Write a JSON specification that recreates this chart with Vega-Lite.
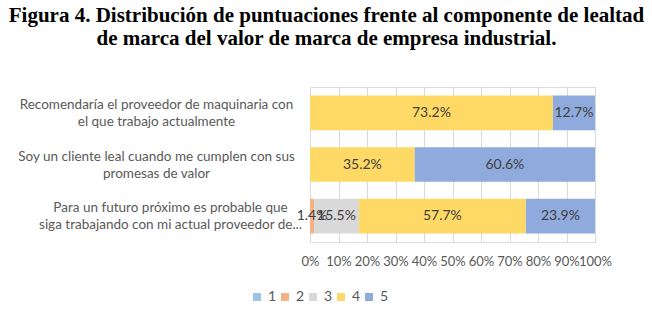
{
  "$schema": "https://vega.github.io/schema/vega-lite/v6.json",
  "autosize": "none",
  "width": 285,
  "height": 155,
  "padding": {"left": 310, "top": 87, "right": 57, "bottom": 72},
  "background": "white",
  "title": {
    "text": ["Figura 4. Distribución de puntuaciones frente al componente de lealtad", "de marca del valor de marca de empresa industrial."],
    "font": "Liberation Serif",
    "fontSize": 21,
    "fontWeight": "bold",
    "color": "#000000",
    "anchor": "middle",
    "frame": "group",
    "dx": -126,
    "lineHeight": 23,
    "offset": 38
  },
  "data": {
    "values": [
      {"item": "Recomendaría el proveedor de maquinaria con|el que trabajo actualmente", "score": "4", "value": 0.732},
      {"item": "Recomendaría el proveedor de maquinaria con|el que trabajo actualmente", "score": "5", "value": 0.127},
      {"item": "Soy un cliente leal cuando me cumplen con sus|promesas de valor", "score": "4", "value": 0.352},
      {"item": "Soy un cliente leal cuando me cumplen con sus|promesas de valor", "score": "5", "value": 0.606},
      {"item": "Para un futuro próximo es probable que|siga trabajando con mi actual proveedor de...", "score": "2", "value": 0.014},
      {"item": "Para un futuro próximo es probable que|siga trabajando con mi actual proveedor de...", "score": "3", "value": 0.155},
      {"item": "Para un futuro próximo es probable que|siga trabajando con mi actual proveedor de...", "score": "4", "value": 0.577},
      {"item": "Para un futuro próximo es probable que|siga trabajando con mi actual proveedor de...", "score": "5", "value": 0.239}
    ]
  },
  "encoding": {
    "y": {
      "field": "item",
      "type": "nominal",
      "sort": null,
      "title": null,
      "scale": {"paddingInner": 0.33, "paddingOuter": 0.165},
      "axis": {
        "domain": false,
        "ticks": false,
        "labelExpr": "split(datum.label, '|')",
        "labelAlign": "center",
        "labelPadding": {"condition": {"test": "indexof(datum.label, 'Para un') === 0", "value": 140}, "value": 154},
        "labelOffset": -8,
        "labelFont": "Lato",
        "labelFontSize": 13.5,
        "labelColor": "#595959",
        "labelLineHeight": 17,
        "labelLimit": 400
      }
    },
    "x": {
      "field": "value",
      "type": "quantitative",
      "stack": "normalize",
      "title": null,
      "scale": {"domain": [0, 1]},
      "axis": {
        "format": ".0%",
        "values": [0, 0.1, 0.2, 0.3, 0.4, 0.5, 0.6, 0.7, 0.8, 0.9, 1],
        "domain": false,
        "ticks": false,
        "grid": true,
        "gridColor": "#D9D9D9",
        "labelFont": "Lato",
        "labelFontSize": 13,
        "labelColor": "#595959",
        "labelPadding": 13,
        "labelFlush": false,
        "labelOverlap": false,
        "labelBound": false
      }
    },
    "order": {"field": "score", "type": "ordinal"}
  },
  "layer": [
    {
      "mark": {"type": "bar"},
      "encoding": {
        "color": {
          "field": "score",
          "type": "nominal",
          "scale": {"domain": ["1", "2", "3", "4", "5"], "range": ["#9DC3E6", "#F4B183", "#D9D9D9", "#FFD966", "#8FAADC"]},
          "legend": {
            "title": null,
            "orient": "none",
            "direction": "horizontal",
            "legendX": -60,
            "legendY": 203,
            "symbolType": "square",
            "symbolSize": 64,
            "symbolStrokeWidth": 0,
            "labelFont": "Lato",
            "labelFontSize": 14,
            "labelColor": "#595959",
            "columnPadding": 1,
            "labelOffset": 4
          }
        }
      }
    },
    {
      "mark": {"type": "text", "font": "Lato", "fontSize": 14, "color": "#404040"},
      "encoding": {
        "x": {
          "field": "value",
          "type": "quantitative",
          "stack": "normalize",
          "bandPosition": 0.5,
          "title": null,
          "scale": {"domain": [0, 1]},
          "axis": {
            "format": ".0%",
            "values": [0, 0.1, 0.2, 0.3, 0.4, 0.5, 0.6, 0.7, 0.8, 0.9, 1],
            "domain": false,
            "ticks": false,
            "grid": true,
            "gridColor": "#D9D9D9",
            "labelFont": "Lato",
            "labelFontSize": 13,
            "labelColor": "#595959",
            "labelPadding": 13,
            "labelFlush": false,
            "labelOverlap": false,
            "labelBound": false
          }
        },
        "text": {"field": "value", "type": "quantitative", "format": ".1%"}
      }
    }
  ]
}
